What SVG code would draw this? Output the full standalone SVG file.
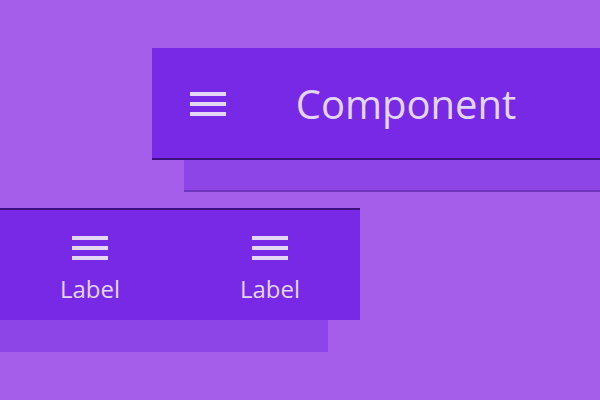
<svg xmlns="http://www.w3.org/2000/svg" width="600" height="400" viewBox="0 0 600 400">
<style>
.bar{fill:#7829E6}
.shadow{fill:#8E45E8}
.edge{fill:#3B0F80}
.icon{fill:#E2D6F4}
.txt{font-family:"Open Sans","Noto Sans",sans-serif;fill:#E2D6F4}
</style>
<defs>
<g id="menu">
<rect x="0" y="0" width="36" height="4" class="icon"/>
<rect x="0" y="10" width="36" height="4" class="icon"/>
<rect x="0" y="20" width="36" height="4" class="icon"/>
</g>
</defs>
<rect width="600" height="400" fill="#A55EEA"/>
<g id="top-appbar">
<rect x="184" y="160" width="416" height="30" class="shadow"/>
<rect x="184" y="190" width="416" height="2" fill="#7035BE"/>
<rect x="152" y="48" width="448" height="110" class="bar"/>
<rect x="152" y="158" width="448" height="2" class="edge"/>
<use href="#menu" x="190" y="92"/>
<text x="406" y="119" text-anchor="middle" font-size="40" class="txt">Component</text>
</g>
<g id="bottom-nav">
<rect x="0" y="320" width="328" height="32" class="shadow"/>
<rect x="0" y="210" width="360" height="110" class="bar"/>
<rect x="0" y="208" width="360" height="2" class="edge"/>
<use href="#menu" x="72" y="236"/>
<text x="90" y="298" text-anchor="middle" font-size="24" class="txt">Label</text>
<use href="#menu" x="252" y="236"/>
<text x="270" y="298" text-anchor="middle" font-size="24" class="txt">Label</text>
</g>
<g id="connectors"/>
</svg>
